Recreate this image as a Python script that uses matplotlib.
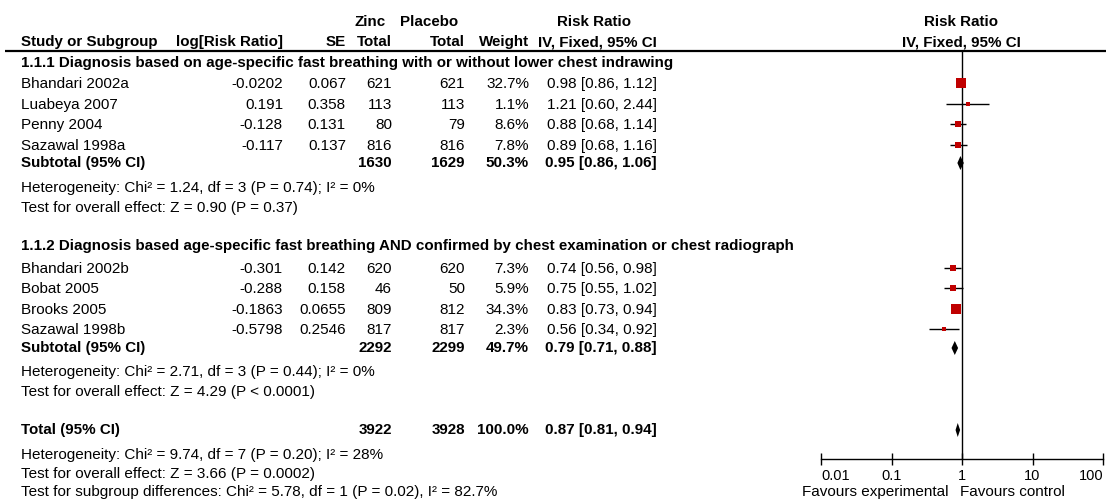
import matplotlib
matplotlib.use('Agg')
import matplotlib.pyplot as plt
import numpy as np
from matplotlib.ticker import NullLocator

plt.rcParams['font.family'] = ['Liberation Sans', 'DejaVu Sans']

# ---- datos del forest plot ----
sub1_title = '1.1.1 Diagnosis based on age-specific fast breathing with or without lower chest indrawing'
sub1_studies = ['Bhandari 2002a', 'Luabeya 2007', 'Penny 2004', 'Sazawal 1998a']
sub1_logrr = ['-0.0202', '0.191', '-0.128', '-0.117']
sub1_se = ['0.067', '0.358', '0.131', '0.137']
sub1_zinc = [621, 113, 80, 816]
sub1_placebo = [621, 113, 79, 816]
sub1_weight = [32.7, 1.1, 8.6, 7.8]
sub1_rr = [0.98, 1.21, 0.88, 0.89]
sub1_lo = [0.86, 0.60, 0.68, 0.68]
sub1_hi = [1.12, 2.44, 1.14, 1.16]
sub1_sum = [1630, 1629, 50.3, 0.95, 0.86, 1.06]
sub1_het = 'Heterogeneity: Chi² = 1.24, df = 3 (P = 0.74); I² = 0%'
sub1_test = 'Test for overall effect: Z = 0.90 (P = 0.37)'

sub2_title = '1.1.2 Diagnosis based age-specific fast breathing AND confirmed by chest examination or chest radiograph'
sub2_studies = ['Bhandari 2002b', 'Bobat 2005', 'Brooks 2005', 'Sazawal 1998b']
sub2_logrr = ['-0.301', '-0.288', '-0.1863', '-0.5798']
sub2_se = ['0.142', '0.158', '0.0655', '0.2546']
sub2_zinc = [620, 46, 809, 817]
sub2_placebo = [620, 50, 812, 817]
sub2_weight = [7.3, 5.9, 34.3, 2.3]
sub2_rr = [0.74, 0.75, 0.83, 0.56]
sub2_lo = [0.56, 0.55, 0.73, 0.34]
sub2_hi = [0.98, 1.02, 0.94, 0.92]
sub2_sum = [2292, 2299, 49.7, 0.79, 0.71, 0.88]
sub2_het = 'Heterogeneity: Chi² = 2.71, df = 3 (P = 0.44); I² = 0%'
sub2_test = 'Test for overall effect: Z = 4.29 (P < 0.0001)'

total_sum = [3922, 3928, 100.0, 0.87, 0.81, 0.94]
total_het = 'Heterogeneity: Chi² = 9.74, df = 7 (P = 0.20); I² = 28%'
total_test = 'Test for overall effect: Z = 3.66 (P = 0.0002)'
subgroup_test = 'Test for subgroup differences: Chi² = 5.78, df = 1 (P = 0.02), I² = 82.7%'

axis_ticks = [0.01, 0.1, 1, 10, 100]
axis_labels = ['0.01', '0.1', '1', '10', '100']

# ---- layout (pixeles) ----
W, H = 1106, 501
FS = 11
FSB = 10.9
RED = '#C00000'
x_study, x_logrr, x_se, x_zinc, x_plac, x_weight, x_ci = 21, 283, 346, 392, 465, 529, 657
y_line = 51
y_axis = 459

sub1_y = [84, 105, 125, 146]
sub2_y = [269, 289, 310, 330]

fig = plt.figure(figsize=(W / 100, H / 100), dpi=100)
ax = fig.add_axes([0, 0, 1, 1])
ax.set_xlim(0, W)
ax.set_ylim(H, 0)
ax.axis('off')

fax = fig.add_axes([821 / W, 0, (1103 - 821) / W, 1])
fax.set_xscale('log')
fax.set_xlim(0.01, 100)
fax.set_ylim(H, 0)
fax.patch.set_alpha(0)
for s in ['top', 'left', 'right']:
    fax.spines[s].set_visible(False)
fax.spines['bottom'].set_position(('data', y_axis))
fax.spines['bottom'].set_linewidth(1)
fax.set_yticks([])
fax.xaxis.set_minor_locator(NullLocator())
fax.set_xticks(axis_ticks, axis_labels)
fax.tick_params(axis='x', direction='inout', length=8, width=1, labelsize=10.5, pad=3.2)
labs = fax.get_xticklabels()
labs[0].set_horizontalalignment('left')
labs[-1].set_horizontalalignment('right')


def txt(x, y, s, ha='left', bold=False):
    ax.text(x, y, s, ha=ha, va='center', fontsize=FSB if bold else FS,
            fontweight='bold' if bold else 'normal', color='black')


# cabeceras
txt(370, 22, 'Zinc', ha='center', bold=True)
txt(429, 22, 'Placebo', ha='center', bold=True)
txt(594, 22, 'Risk Ratio', ha='center', bold=True)
txt(961, 22, 'Risk Ratio', ha='center', bold=True)
y_h = 42
txt(x_study, y_h, 'Study or Subgroup', bold=True)
txt(x_logrr, y_h, 'log[Risk Ratio]', ha='right', bold=True)
txt(x_se, y_h, 'SE', ha='right', bold=True)
txt(x_zinc, y_h, 'Total', ha='right', bold=True)
txt(x_plac, y_h, 'Total', ha='right', bold=True)
txt(x_weight, y_h, 'Weight', ha='right', bold=True)
txt(x_ci, y_h, 'IV, Fixed, 95% CI', ha='right', bold=True)
txt(961, y_h, 'IV, Fixed, 95% CI', ha='center', bold=True)
ax.plot([5, W], [y_line, y_line], color='black', lw=1.6, solid_capstyle='butt')


def study_rows(names, logrr, se, zinc, plac, weight, rr, lo, hi, ys):
    for i, y in enumerate(ys):
        txt(x_study, y, names[i])
        txt(x_logrr, y, logrr[i], ha='right')
        txt(x_se, y, se[i], ha='right')
        txt(x_zinc, y, str(zinc[i]), ha='right')
        txt(x_plac, y, str(plac[i]), ha='right')
        txt(x_weight, y, f'{weight[i]:.1f}%', ha='right')
        txt(x_ci, y, f'{rr[i]:.2f} [{lo[i]:.2f}, {hi[i]:.2f}]', ha='right')
    ys = np.array(ys) - 1.5
    fax.hlines(ys, lo, hi, color='black', lw=1)
    for i, y in enumerate(ys):
        # tamaño del cuadrado segun el peso
        side = 1.5 * np.sqrt(weight[i]) + 1.8
        fax.plot(rr[i], y, marker='s', ms=side * 0.72, color=RED, mec=RED, mew=0, zorder=3)


def summary_row(label, vals, y):
    txt(x_study, y, label, bold=True)
    txt(x_zinc, y, str(vals[0]), ha='right', bold=True)
    txt(x_plac, y, str(vals[1]), ha='right', bold=True)
    txt(x_weight, y, f'{vals[2]:.1f}%', ha='right', bold=True)
    txt(x_ci, y, f'{vals[3]:.2f} [{vals[4]:.2f}, {vals[5]:.2f}]', ha='right', bold=True)
    h = 7
    fax.fill([vals[4], vals[3], vals[5], vals[3]], [y, y - h, y, y + h],
             color='black', lw=0, zorder=3)


# subgrupo 1
txt(x_study, 63, sub1_title, bold=True)
study_rows(sub1_studies, sub1_logrr, sub1_se, sub1_zinc, sub1_placebo,
           sub1_weight, sub1_rr, sub1_lo, sub1_hi, sub1_y)
summary_row('Subtotal (95% CI)', sub1_sum, 163)
txt(x_study, 188, sub1_het)
txt(x_study, 208, sub1_test)

# subgrupo 2
txt(x_study, 246, sub2_title, bold=True)
study_rows(sub2_studies, sub2_logrr, sub2_se, sub2_zinc, sub2_placebo,
           sub2_weight, sub2_rr, sub2_lo, sub2_hi, sub2_y)
summary_row('Subtotal (95% CI)', sub2_sum, 348)
txt(x_study, 372, sub2_het)
txt(x_study, 392, sub2_test)

# total
summary_row('Total (95% CI)', total_sum, 430)
txt(x_study, 455, total_het)
txt(x_study, 474, total_test)
txt(x_study, 492, subgroup_test)

# linea de no efecto
fax.vlines(1, y_line, y_axis, color='black', lw=1)

txt(948, 492, 'Favours experimental', ha='right')
txt(960, 492, 'Favours control')

fig.savefig('out.png', dpi=100)
plt.close(fig)
